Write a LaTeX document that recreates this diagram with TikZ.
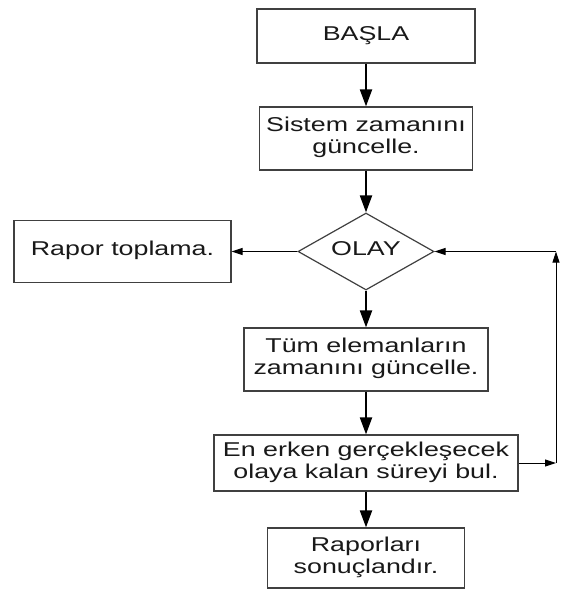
\documentclass[tikz,border=0pt]{standalone}
\usepackage{fontspec}
\setmainfont{Liberation Sans}
\usepackage{graphicx}
\usetikzlibrary{arrows.meta,shapes.geometric}
\newcommand\stx[1]{\scalebox{1.34}[1]{\begin{tabular}{@{}c@{}}#1\end{tabular}}}
\begin{document}
\begin{tikzpicture}[x=1pt,y=-1pt,
  box/.style={draw=black!75, line width=1.2pt, fill=white, rectangle, inner sep=0pt, text=black!90, font=\fontsize{20}{22}\selectfont},
  dia/.style={draw=black!75, line width=1.2pt, fill=white, diamond, aspect=1.77, inner sep=0pt, text=black!90, font=\fontsize{20}{22}\selectfont},
  mainarrow/.style={-{Triangle[width=12pt,length=17pt]}, line width=2pt},
  thinarrow/.style={-{Triangle[width=7pt,length=11pt]}, line width=1pt}]
\useasboundingbox (0,0) rectangle (572,590);
\fill[white] (0,0) rectangle (572,590);
\node[box, minimum width=218pt, minimum height=54pt] (basla) at (366,36) {\stx{BAŞLA}};
\node[box, minimum width=213pt, minimum height=63pt] (sistem) at (366,138.5) {\stx{Sistem zamanını\\güncelle.}};
\node[dia, minimum width=136pt, minimum height=77pt] (olay) at (366,251.5) {\stx{OLAY}};
\node[box, minimum width=217pt, minimum height=62pt] (rapor) at (122.5,251.5) {\stx{Rapor toplama.}};
\node[box, minimum width=244pt, minimum height=63pt] (tum) at (366,359.5) {\stx{Tüm elemanların\\zamanını güncelle.}};
\node[box, minimum width=304pt, minimum height=56pt] (erken) at (366,463) {\stx{En erken gerçekleşecek\\olaya kalan süreyi bul.}};
\node[box, minimum width=197pt, minimum height=60pt] (sonuc) at (366,558) {\stx{Raporları\\sonuçlandır.}};
\coordinate (c1) at (556,463);
\coordinate (c2) at (556,251.5);
\draw[mainarrow] (basla) -- (sistem);
\draw[mainarrow] (sistem) -- (olay);
\draw[mainarrow] (olay) -- (tum);
\draw[mainarrow] (tum) -- (erken);
\draw[mainarrow] (erken) -- (sonuc);
\draw[thinarrow] (olay) -- (rapor);
\draw[thinarrow] (erken) -- (c1);
\draw[thinarrow] (c1) -- (c2);
\draw[thinarrow] (c2) -- (olay);
\end{tikzpicture}
\end{document}
